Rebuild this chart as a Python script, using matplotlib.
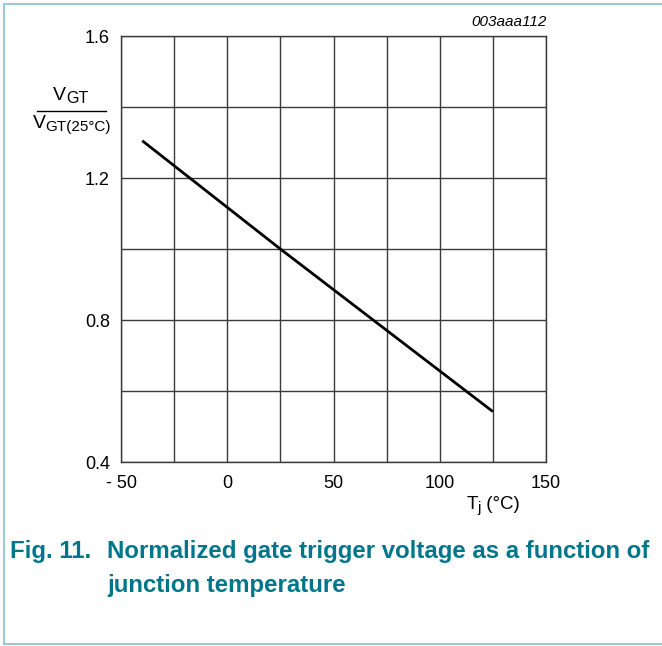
import matplotlib
matplotlib.use("Agg")
import matplotlib.pyplot as plt
from matplotlib.lines import Line2D
import numpy as np

plt.rcParams['font.family'] = ['Liberation Sans', 'DejaVu Sans']

# Data
tj = [-40, 25, 125]
vgt_ratio = [1.305, 1.0, 0.542]
x_ticks = [-50, 0, 50, 100, 150]
x_tick_labels = ['- 50', '0', '50', '100', '150']
y_ticks = [0.4, 0.8, 1.2, 1.6]
y_tick_labels = ['0.4', '0.8', '1.2', '1.6']

W, H = 662, 646
fig = plt.figure(figsize=(W / 100, H / 100), dpi=100)
renderer = fig.canvas.get_renderer()


def fx(px):
    return px / W


def fy(py):
    return 1 - py / H


ax = fig.add_axes([fx(121), fy(462), (546 - 121) / W, (462 - 36) / H])
ax.set_xlim(-50, 150)
ax.set_ylim(0.4, 1.6)
ax.set_xticks(np.arange(-50, 151, 25), minor=True)
ax.set_yticks(np.arange(0.4, 1.61, 0.2), minor=True)
ax.set_xticks(x_ticks)
ax.set_xticklabels(x_tick_labels)
ax.set_yticks(y_ticks)
ax.set_yticklabels(y_tick_labels)
ax.tick_params(which='both', length=0, labelsize=13, colors='black')
ax.tick_params(axis='x', pad=9)
ax.tick_params(axis='y', pad=8)
ax.grid(which='both', color='#3a3a3a', linewidth=1.0)
for s in ax.spines.values():
    s.set_color('#3a3a3a')
    s.set_linewidth(1.0)
ax.set_axisbelow(True)

ax.plot(tj, vgt_ratio, color='black', linewidth=2.0, solid_capstyle='butt')

# Figure ID
fig.text(fx(547), fy(22), '003aaa112', ha='right', va='center', fontsize=11, style='italic')


def sub_text(parts, cx, base_y):
    """parts: list of (string, fontsize, dy_px). Draw centred at cx (px) with baseline base_y (px)."""
    widths = []
    for s, fs, dy in parts:
        t = fig.text(0, 0, s, fontsize=fs)
        bb = t.get_window_extent(renderer)
        widths.append(bb.width)
        t.remove()
    total = sum(widths)
    x = cx - total / 2
    for (s, fs, dy), w in zip(parts, widths):
        fig.text(fx(x), fy(base_y + dy), s, fontsize=fs, ha='left', va='baseline')
        x += w


# Y label as fraction
sub_text([('V', 14, 0), ('GT', 11.5, 3)], 71, 100)
fig.add_artist(Line2D([fx(37), fx(106)], [fy(110.5), fy(110.5)], color='black', linewidth=1.0))
sub_text([('V', 14, 0), ('GT(25°C)', 11, 3)], 72, 128)

# X label
sub_text([('T', 13.5, 0), ('j', 11, 3), (' (°C)', 13.5, 0)], 493, 509)

# Caption
cap_color = '#00768a'
fig.text(fx(10), fy(558), 'Fig. 11.', ha='left', va='baseline', fontsize=17.3, fontweight='bold', color=cap_color)
fig.text(fx(107), fy(558), 'Normalized gate trigger voltage as a function of', ha='left', va='baseline',
         fontsize=17.3, fontweight='bold', color=cap_color)
fig.text(fx(107), fy(592), 'junction temperature', ha='left', va='baseline',
         fontsize=17.3, fontweight='bold', color=cap_color)

# Frame border
bc = '#9ccbd3'
fig.add_artist(Line2D([fx(3.5), fx(3.5)], [fy(3.5), fy(644)], color=bc, linewidth=1.5))
fig.add_artist(Line2D([fx(3.5), 1.0], [fy(3.5), fy(3.5)], color=bc, linewidth=1.5))
fig.add_artist(Line2D([fx(3.5), 1.0], [fy(644), fy(644)], color=bc, linewidth=1.5))

fig.savefig('out.png', dpi=100)
